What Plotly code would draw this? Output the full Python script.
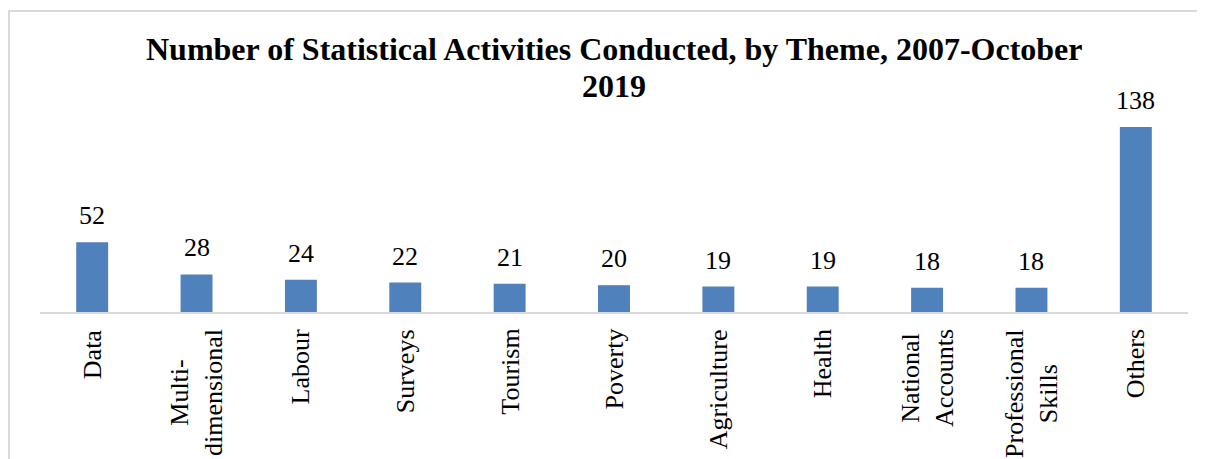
import plotly.graph_objects as go

categories = ["Data", "Multi-<br>dimensional", "Labour", "Surveys", "Tourism", "Poverty",
              "Agriculture", "Health", "National<br>Accounts", "Professional<br>Skills", "Others"]
values = [52, 28, 24, 22, 21, 20, 19, 19, 18, 18, 138]
title_line1 = "Number of Statistical Activities Conducted, by Theme, 2007-October"
title_line2 = "2019"

FONT = "Liberation Serif, Times New Roman, serif"
BAR_COLOR = "#4F81BD"
GRID_COLOR = "#D9D9D9"

# page body has an 8px margin; work in screen pixels and convert
OFF = 8
SW, SH = 1205, 459
W, H = SW - OFF, SH - OFF
PL, PR, PT, PB = 40, 1188, 127, 312  # plot area in screen pixels
L, R, T, B = PL - OFF, SW - PR, PT - OFF, SH - PB

pw = PR - PL
ph = PB - PT
def px_x(p):
    return (p - PL) / pw
def px_y(p):
    return (PB - p) / ph

fig = go.Figure()
fig.add_trace(go.Bar(
    x=categories, y=values, marker=dict(color=BAR_COLOR, line=dict(width=0)),
    width=0.306, hoverinfo="x+y",
))

annotations = []
for c, v in zip(categories, values):
    annotations.append(dict(x=c, y=v, xref="x", yref="y", text=str(v), showarrow=False,
                            yanchor="bottom", yshift=10,
                            font=dict(family=FONT, size=26, color="#000000")))
    annotations.append(dict(x=c, y=0, xref="x", yref="y", text=c, showarrow=False,
                            yanchor="top", xanchor="center", textangle=-90, align="center",
                            yshift=-15,
                            font=dict(family=FONT, size=26, color="#000000")))

TS = 32
annotations.append(dict(x=0.5, y=px_y(60 - 0.34 * TS), xref="paper", yref="paper",
                        text="<b>" + title_line1 + "</b>", showarrow=False,
                        xanchor="center", yanchor="middle",
                        font=dict(family=FONT, size=TS, color="#000000")))
annotations.append(dict(x=0.5, y=px_y(97 - 0.34 * TS), xref="paper", yref="paper",
                        text="<b>" + title_line2 + "</b>", showarrow=False,
                        xanchor="center", yanchor="middle",
                        font=dict(family=FONT, size=TS, color="#000000")))

shapes = [
    dict(type="line", xref="paper", yref="paper", x0=px_x(8), x1=px_x(1210), y0=px_y(11), y1=px_y(11),
         line=dict(color=GRID_COLOR, width=2)),
    dict(type="line", xref="paper", yref="paper", x0=px_x(9), x1=px_x(9), y0=px_y(10), y1=px_y(470),
         line=dict(color=GRID_COLOR, width=2)),
]

fig.update_layout(
    width=W, height=H,
    margin=dict(l=L, r=R, t=T, b=B, pad=0),
    paper_bgcolor="white", plot_bgcolor="white",
    showlegend=False,
    xaxis=dict(showticklabels=False, ticks="", showgrid=False, zeroline=False,
               showline=True, linecolor=GRID_COLOR, linewidth=2),
    yaxis=dict(range=[0, 138], showticklabels=False, ticks="", showgrid=False,
               zeroline=False, showline=False),
    annotations=annotations,
    shapes=shapes,
)

fig.write_html("out.html")
